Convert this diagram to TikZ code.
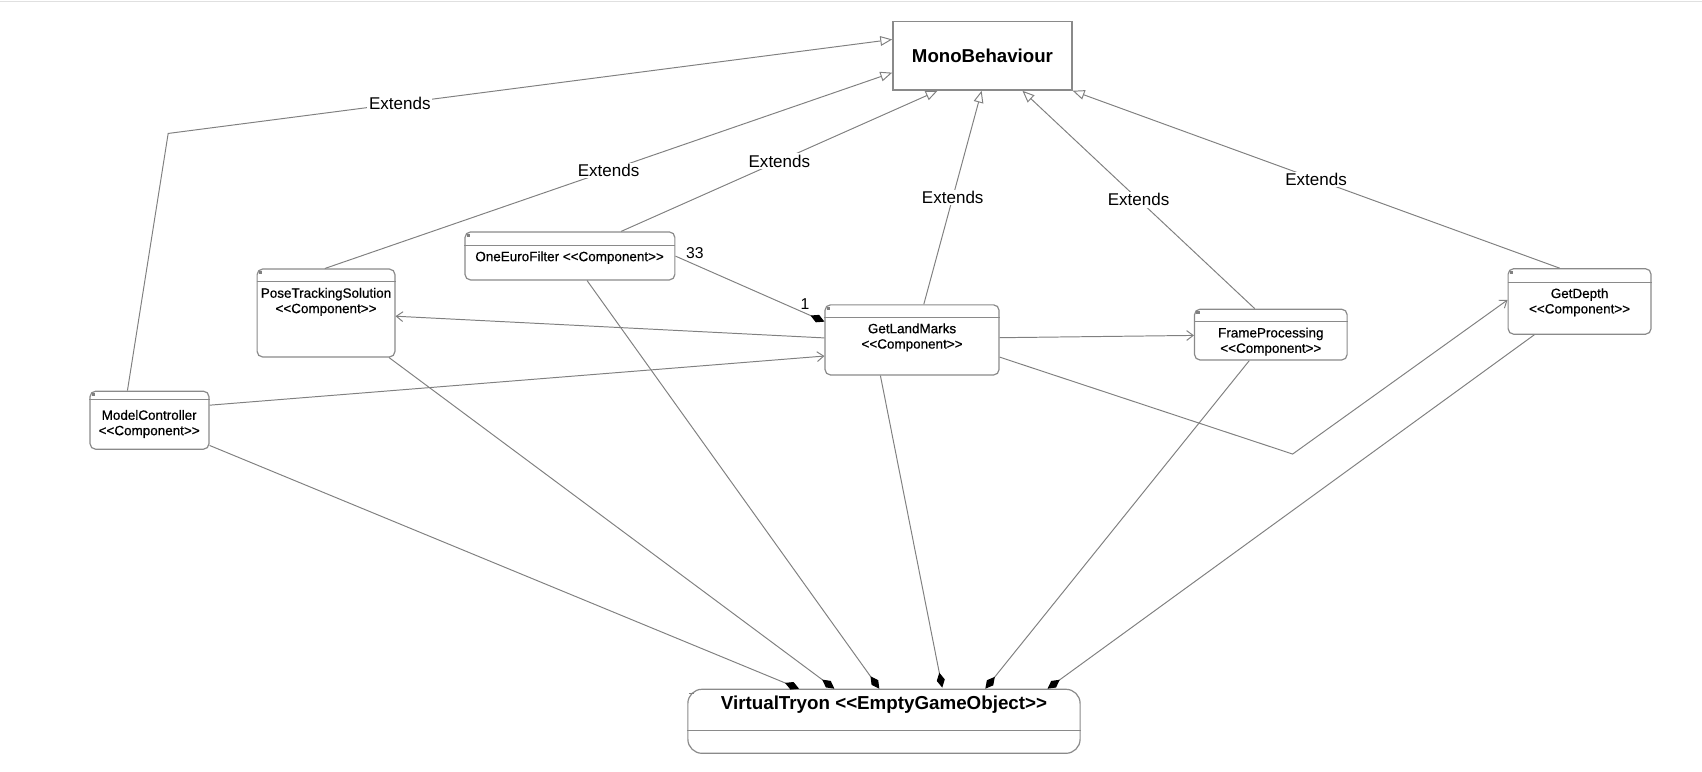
\documentclass[tikz,border=0pt]{standalone}
\usepackage{fontspec}
\setmainfont{Liberation Sans}
\newfontfamily\compfont{Liberation Sans}[FakeBold=0.6]
\usetikzlibrary{arrows.meta,calc}
\definecolor{linegray}{HTML}{808080}
\definecolor{boxgray}{HTML}{8A8A8A}
\tikzset{
  conn/.style={draw=linegray, line width=0.9pt},
  ext/.style={conn, -{Triangle[open, length=11pt, width=9pt]}},
  assoc/.style={conn, -{Straight Barb[length=6pt, width=9pt]}},
  comp/.style={conn, -{Diamond[length=14pt, width=7.5pt, black]}},
  compbox/.style={draw=boxgray, line width=1.1pt, rounded corners=5pt, inner sep=0pt, fill=white},
  monobox/.style={draw=boxgray, line width=1.3pt, inner sep=0pt, fill=white, font=\fontsize{17.2}{20}\selectfont\bfseries},
  hdr/.style={draw=boxgray, line width=0.9pt},
  ctext/.style={font=\compfont\fontsize{12.4}{14.2}\selectfont, align=center, inner sep=0pt},
  elabel/.style={fill=white, inner sep=1.5pt, font=\fontsize{15.7}{18}\selectfont},
  mult/.style={inner sep=0pt, font=\fontsize{14.5}{17}\selectfont},
  tinysq/.style={fill=gray, draw=none},
}
\begin{document}
\begin{tikzpicture}[x=1pt,y=-1pt]
\useasboundingbox (0,0) rectangle (1568.7,711.5);
\draw[draw=black!12, line width=1.2pt] (0,1.5) -- (1568.7,1.5);

% Mono
\node[monobox, minimum width=165pt, minimum height=63pt] (mono) at (905.5,51.5) {MonoBehaviour};

% component boxes
\node[compbox, minimum width=193.4pt, minimum height=44.2pt] (oef) at (525.3,235.9) {};
\node[compbox, minimum width=127pt, minimum height=81pt] (pose) at (300.5,288.5) {};
\node[compbox, minimum width=160.4pt, minimum height=64.6pt] (glm) at (840.6,313.3) {};
\node[compbox, minimum width=140.6pt, minimum height=46.8pt] (fp) at (1171.3,308.4) {};
\node[compbox, minimum width=131.7pt, minimum height=60.3pt] (gd) at (1455.85,277.85) {};
\node[compbox, minimum width=109.6pt, minimum height=53.4pt] (mc) at (137.8,387.3) {};
\node[compbox, rounded corners=13pt, minimum width=361.5pt, minimum height=59pt] (vt) at (814.75,664.8) {};

% header lines
\draw[hdr] ($(oef.north west)+(0,12.7)$) -- ($(oef.north east)+(0,12.7)$);
\draw[hdr] ($(pose.north west)+(0,12.3)$) -- ($(pose.north east)+(0,12.3)$);
\draw[hdr] ($(glm.north west)+(0,12.4)$) -- ($(glm.north east)+(0,12.4)$);
\draw[hdr] ($(fp.north west)+(0,12)$) -- ($(fp.north east)+(0,12)$);
\draw[hdr] ($(gd.north west)+(0,13.3)$) -- ($(gd.north east)+(0,13.3)$);
\draw[hdr] ($(mc.north west)+(0,8.3)$) -- ($(mc.north east)+(0,8.3)$);
\draw[hdr] ($(vt.north west)+(0,38.4)$) -- ($(vt.north east)+(0,38.4)$);

% tiny markers
\foreach \b in {oef,pose,glm,fp,gd,mc}{
  \fill[tinysq] ($(\b.north west)+(2.2,2.2)$) rectangle ++(3,3);
}
\draw[gray, line width=0.8pt] ($(vt.north west)+(1.5,4)$) -- ++(4.5,0);

% texts
\node[ctext] (oeft) at (525,237.5) {OneEuroFilter <{}<Component>{}>};
\node[ctext] (poset) at (300.5,278.3) {PoseTrackingSolution\\<{}<Component>{}>};
\node[ctext] (glmt) at (840.6,311) {GetLandMarks\\<{}<Component>{}>};
\node[ctext] (fpt) at (1171.3,314.9) {FrameProcessing\\<{}<Component>{}>};
\node[ctext] (gdt) at (1455.85,278.6) {GetDepth\\<{}<Component>{}>};
\node[ctext] (mct) at (137.5,390.8) {ModelController\\<{}<Component>{}>};
\node[inner sep=0pt, font=\fontsize{17.3}{20}\selectfont\bfseries] (vtt) at (814.75,649.5) {VirtualTryon <{}<EmptyGameObject>{}>};

% bend points
\coordinate (b1) at (155,123);
\coordinate (b2) at (1191.4,418.5);

% Extends
\draw[ext] ($(mc.north west)+(35,0)$) -- (b1) -- node[elabel, pos=0.32] (x1) {Extends} ($(mono.north west)+(0,17)$);
\draw[ext] ($(pose.north west)+(63,0)$) -- node[elabel, pos=0.5] (x2) {Extends} ($(mono.north west)+(0,47.6)$);
\draw[ext] ($(oef.north west)+(144.5,0)$) -- node[elabel, pos=0.5] (x3) {Extends} ($(mono.south west)+(41.8,0)$);
\draw[ext] ($(glm.north west)+(91.6,0)$) -- node[elabel, pos=0.5] (x4) {Extends} ($(mono.south west)+(82.4,0)$);
\draw[ext] ($(fp.north west)+(56,0)$) -- node[elabel, pos=0.5] (x5) {Extends} ($(mono.south west)+(120,0)$);
\draw[ext] ($(gd.north west)+(48,0)$) -- node[elabel, pos=0.5] (x6) {Extends} (mono.south east);

% associations
\draw[assoc] ($(glm.north west)+(0,31)$) -- ($(pose.north east)+(0,44)$);
\draw[assoc] ($(mc.north east)+(0,13.4)$) -- ($(glm.north west)+(0,47.7)$);
\draw[assoc] ($(glm.north east)+(0,30.8)$) -- ($(fp.north west)+(0,24.7)$);
\draw[assoc] ($(glm.north east)+(0,48.7)$) -- (b2) -- ($(gd.north west)+(0,29.3)$);

% aggregation OneEuroFilter - GetLandMarks
\draw[comp] ($(oef.north east)+(0,22.8)$) -- ($(glm.north west)+(0,16)$);
\node[mult] (m33) at (640.5,233) {33};
\node[mult] (m1) at (742,280) {1};

% compositions to VirtualTryon
\draw[comp] ($(mc.south east)+(0,-4)$) -- ($(vt.north west)+(103,0)$);
\draw[comp] ($(pose.south east)+(-6,0)$) -- ($(vt.north west)+(135.6,0)$);
\draw[comp] ($(oef.south west)+(113,0)$) -- ($(vt.north west)+(177,0)$);
\draw[comp] ($(glm.south west)+(51.6,0)$) -- ($(vt.north west)+(235,-1)$);
\draw[comp] ($(fp.south west)+(51,0)$) -- ($(vt.north west)+(274.7,0)$);
\draw[comp] ($(gd.south west)+(24.7,0)$) -- ($(vt.north west)+(332,0)$);
\end{tikzpicture}
\end{document}
